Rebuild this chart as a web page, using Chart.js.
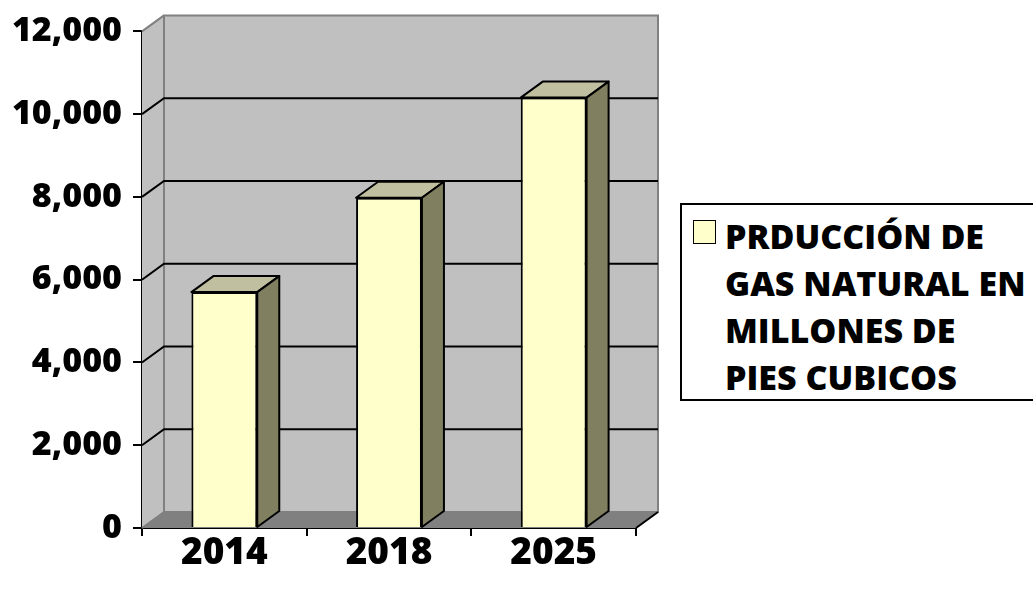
<!DOCTYPE html>
<html>
<head>
<meta charset="utf-8">
<title>Producción de gas natural</title>
<style>
  body { margin: 0; background: #fff; }
  .chart-wrap { position: relative; width: 1033px; height: 589px; }
  .legend-box {
    position: absolute; left: 680px; top: 203px; width: 370px; height: 198px;
    box-sizing: border-box; border: 2px solid #000; background: #fff;
    padding: 8px 0 0 43px;
    font: 800 34px 'Open Sans', sans-serif; line-height: 47px; color: #000;
  }
  .legend-swatch {
    position: absolute; left: 11px; top: 15px; width: 21px; height: 22px;
    background: #ffffcc; border: 1.5px solid #000;
  }
</style>
</head>
<body>
<div class="chart-wrap">
  <canvas id="gasChart"></canvas>
  <div class="legend-box" id="legendBox"><span class="legend-swatch"></span></div>
</div>

<script src="https://cdn.jsdelivr.net/npm/chart.js"></script>
<script>
  // values
  const years = ['2014', '2018', '2025'];
  const production = [5700, 7980, 10400];
  const seriesLabel = ['PRDUCCIÓN DE', 'GAS NATURAL EN', 'MILLONES DE', 'PIES CUBICOS'];
  const yMax = 12000;
  const yStep = 2000;

  // depth of the fake 3D box
  const DX = 22, DY = -16;

  function poly(ctx, pts, fill, stroke, lw) {
    ctx.beginPath();
    ctx.moveTo(pts[0][0], pts[0][1]);
    for (let i = 1; i < pts.length; i++) ctx.lineTo(pts[i][0], pts[i][1]);
    ctx.closePath();
    if (fill) { ctx.fillStyle = fill; ctx.fill(); }
    if (stroke) { ctx.strokeStyle = stroke; ctx.lineWidth = lw || 1; ctx.stroke(); }
  }

  const box3d = {
    id: 'box3d',
    beforeDatasetsDraw(chart) {
      const ctx = chart.ctx;
      const { left, right, top, bottom } = chart.chartArea;
      const y = chart.scales.y;
      ctx.save();
      // left wall, back wall, floor
      poly(ctx, [[left, top], [left + DX, top + DY], [left + DX, bottom + DY], [left, bottom]], '#c0c0c0');
      poly(ctx, [[left + DX, top + DY], [right + DX, top + DY], [right + DX, bottom + DY], [left + DX, bottom + DY]], '#c0c0c0', '#808080', 2);
      poly(ctx, [[left, bottom], [left + DX, bottom + DY], [right + DX, bottom + DY], [right, bottom]], '#808080');
      // gridlines on the walls
      ctx.strokeStyle = '#000';
      ctx.lineWidth = 2;
      for (let v = yStep; v < yMax; v += yStep) {
        const py = y.getPixelForValue(v);
        ctx.beginPath();
        ctx.moveTo(left, py);
        ctx.lineTo(left + DX, py + DY);
        ctx.lineTo(right + DX, py + DY);
        ctx.stroke();
      }
      // wall edges
      ctx.strokeStyle = '#808080';
      ctx.beginPath();
      ctx.moveTo(left, top); ctx.lineTo(left + DX, top + DY);
      ctx.moveTo(left, bottom); ctx.lineTo(left + DX, bottom + DY);
      ctx.stroke();
      ctx.strokeStyle = '#000';
      ctx.beginPath();
      ctx.moveTo(right, bottom); ctx.lineTo(right + DX, bottom + DY);
      ctx.stroke();
      ctx.restore();
    },
    afterDatasetsDraw(chart) {
      const ctx = chart.ctx;
      ctx.save();
      ctx.lineJoin = 'round';
      chart.getDatasetMeta(0).data.forEach(bar => {
        const p = bar.getProps(['x', 'y', 'base', 'width'], true);
        const l = p.x - p.width / 2, r = p.x + p.width / 2;
        poly(ctx, [[l, p.y], [l + DX, p.y + DY], [r + DX, p.y + DY], [r, p.y]], '#c0c0a0', '#000', 2);
        poly(ctx, [[r, p.y], [r + DX, p.y + DY], [r + DX, p.base + DY], [r, p.base]], '#808060', '#000', 2);
      });
      ctx.restore();
    }
  };

  const yFont = { family: "'Open Sans', sans-serif", size: 34, weight: 800 };
  const xFont = { family: "'Open Sans', sans-serif", size: 37, weight: 800 };

  new Chart(document.getElementById('gasChart'), {
    type: 'bar',
    data: {
      labels: years,
      datasets: [{
        label: seriesLabel.join(' '),
        data: production,
        backgroundColor: '#ffffcc',
        borderColor: '#000',
        borderWidth: 2,
        barPercentage: 0.4,
        categoryPercentage: 1
      }]
    },
    options: {
      responsive: true,
      maintainAspectRatio: false,
      animation: false,
      layout: { padding: { top: 23, right: 397, left: 0, bottom: 0 } },
      plugins: { legend: { display: false }, tooltip: { enabled: false } },
      scales: {
        x: {
          afterFit(scale) { scale.height = 61; },
          grid: { drawOnChartArea: false, color: '#000', lineWidth: 2, tickLength: 8 },
          border: { color: '#000', width: 2 },
          ticks: { color: '#000', font: xFont, padding: -5 }
        },
        y: {
          min: 0,
          max: yMax,
          afterFit(scale) { scale.width = 142; },
          grid: { drawOnChartArea: false, color: '#000', lineWidth: 2, tickLength: 9 },
          border: { color: '#000', width: 2 },
          ticks: { stepSize: yStep, color: '#000', font: yFont, padding: 11 }
        }
      }
    },
    plugins: [box3d]
  });

  const legendBox = document.getElementById('legendBox');
  seriesLabel.forEach(line => {
    const d = document.createElement('div');
    d.textContent = line;
    legendBox.appendChild(d);
  });
</script>
</body>
</html>
